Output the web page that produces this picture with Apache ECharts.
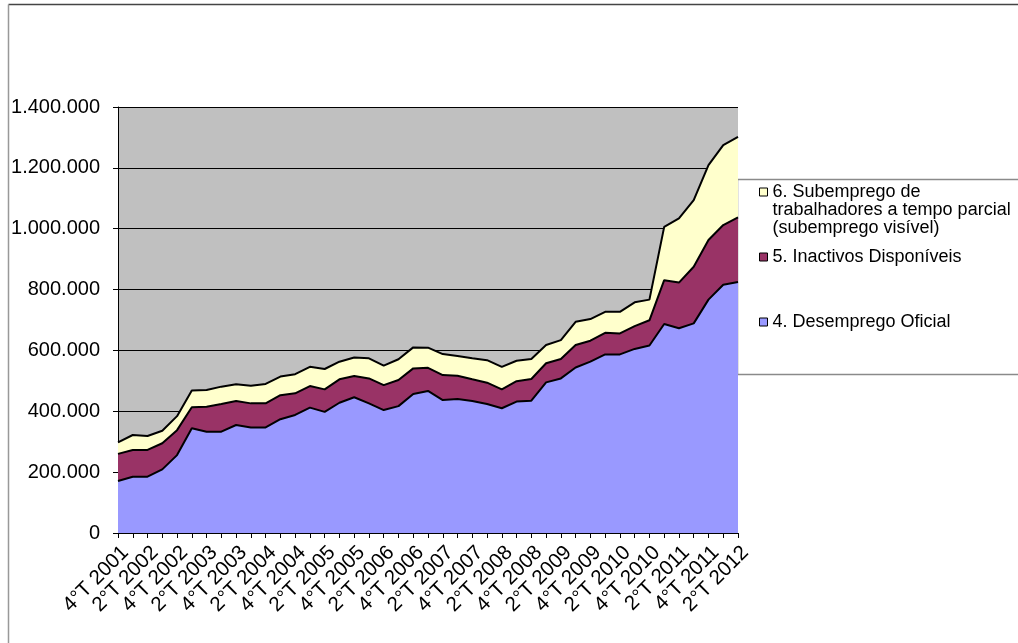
<!DOCTYPE html>
<html>
<head>
<meta charset="utf-8">
<script src="https://cdn.jsdelivr.net/npm/echarts@6/dist/echarts.min.js"></script>
<style>
  html, body { margin: 0; padding: 0; background: #fff; }
  #chart { width: 1018px; height: 643px; }
</style>
</head>
<body>
<div id="chart"></div>
<script>
/*########## dados: trimestres 4ºT 2001 - 2ºT 2012 ##########*/
var trimestres = [
  '4°T 2001',
  '1°T 2002', '2°T 2002', '3°T 2002', '4°T 2002',
  '1°T 2003', '2°T 2003', '3°T 2003', '4°T 2003',
  '1°T 2004', '2°T 2004', '3°T 2004', '4°T 2004',
  '1°T 2005', '2°T 2005', '3°T 2005', '4°T 2005',
  '1°T 2006', '2°T 2006', '3°T 2006', '4°T 2006',
  '1°T 2007', '2°T 2007', '3°T 2007', '4°T 2007',
  '1°T 2008', '2°T 2008', '3°T 2008', '4°T 2008',
  '1°T 2009', '2°T 2009', '3°T 2009', '4°T 2009',
  '1°T 2010', '2°T 2010', '3°T 2010', '4°T 2010',
  '1°T 2011', '2°T 2011', '3°T 2011', '4°T 2011',
  '1°T 2012', '2°T 2012'
];

// 4. Desemprego Oficial
var desempregoOficial = [
  171000, 185000, 185000, 209000, 256000, 344000, 333000, 333000, 355000, 347000,
  347000, 374000, 388000, 412000, 398000, 428000, 446000, 426000, 404000, 417000,
  457000, 467000, 437000, 440000, 434000, 424000, 410000, 432000, 435000, 495000,
  508000, 544000, 563000, 587000, 587000, 605000, 616000, 687000, 673000, 689000,
  767000, 816000, 825000
];

// 5. Inactivos Disponíveis
var inactivosDisponiveis = [
  89000, 88000, 88000, 86000, 82000, 69000, 82000, 91000, 79000, 79000,
  79000, 79000, 71000, 71000, 74000, 77000, 70000, 82000, 82000, 86000,
  84000, 76000, 82000, 77000, 71000, 70000, 62000, 67000, 71000, 63000,
  64000, 74000, 69000, 71000, 69000, 75000, 83000, 144000, 150000, 186000,
  196000, 196000, 212000
];

// 6. Subemprego de trabalhadores a tempo parcial
var subemprego = [
  38000, 49000, 46000, 41000, 46000, 55000, 55000, 57000, 55000, 58000,
  64000, 61000, 63000, 63000, 67000, 58000, 61000, 66000, 64000, 68000,
  69000, 66000, 69000, 65000, 69000, 74000, 74000, 67000, 66000, 60000,
  62000, 76000, 71000, 69000, 71000, 78000, 68000, 175000, 211000, 219000,
  246000, 263000, 265000
];

var nomes = [
  '4. Desemprego Oficial',
  '5. Inactivos Disponíveis',
  '6. Subemprego de\ntrabalhadores a tempo parcial\n(subemprego visível)'
];
var cores = ['#9999ff', '#993366', '#ffffcc'];

var fonte = '"Liberation Sans", Arial, sans-serif';

function milhares(v) {
    return String(v).replace(/\B(?=(\d{3})+(?!\d))/g, '.');
}

function serie(nome, dados, cor) {
    return {
        name: nome,
        type: 'line',
        stack: 'total',
        data: dados,
        showSymbol: false,
        symbol: 'none',
        silent: true,
        itemStyle: { color: cor },
        lineStyle: { color: '#000', width: 2 },
        areaStyle: { color: cor, opacity: 1 }
    };
}

var dom = document.getElementById('chart');
var myChart = echarts.init(dom);

var option = {
    animation: false,
    textStyle: { fontFamily: fonte },
    graphic: [
        {
            type: 'line', z: -10,
            shape: { x1: 8.5, y1: 4.5, x2: 1018, y2: 4.5 },
            style: { stroke: '#444', lineWidth: 1.5 }
        },
        {
            type: 'line', z: -10,
            shape: { x1: 8.5, y1: 4.5, x2: 8.5, y2: 643 },
            style: { stroke: '#999', lineWidth: 1.5 }
        },
        {
            type: 'rect', z: -5,
            shape: { x: 737.5, y: 179.5, width: 320, height: 195 },
            style: { fill: '#fff', stroke: '#8a8a8a', lineWidth: 1.5 }
        }
    ],
    legend: [
        {
            // duas linhas vazias em cima para o quadrado ficar na 1ª linha
            data: [nomes[2]],
            formatter: function (name) { return '\n\n' + name; },
            orient: 'vertical',
            left: 759,
            top: 147,
            padding: 0,
            icon: 'rect',
            itemWidth: 8,
            itemHeight: 8,
            itemStyle: { borderColor: '#000', borderWidth: 1 },
            textStyle: { fontSize: 18, lineHeight: 18, color: '#000', fontFamily: fonte }
        },
        {
            data: [nomes[1], nomes[0]],
            orient: 'vertical',
            left: 759,
            top: 248,
            padding: 0,
            itemGap: 47,
            icon: 'rect',
            itemWidth: 8,
            itemHeight: 8,
            itemStyle: { borderColor: '#000', borderWidth: 1 },
            textStyle: { fontSize: 18, lineHeight: 18, color: '#000', fontFamily: fonte }
        }
    ],
    grid: {
        left: 118,
        right: 280,
        top: 107,
        bottom: 110,
        show: true,
        backgroundColor: '#c0c0c0',
        borderWidth: 0
    },
    xAxis: {
        type: 'category',
        boundaryGap: false,
        data: trimestres,
        axisLine: { lineStyle: { color: '#000', width: 1 } },
        axisTick: { interval: 0, length: 5, lineStyle: { color: '#000' } },
        axisLabel: {
            interval: 1,
            rotate: 45,
            margin: 9,
            verticalAlign: 'top',
            fontSize: 20.5,
            color: '#000',
            fontFamily: fonte
        },
        splitLine: { show: false }
    },
    yAxis: {
        type: 'value',
        min: 0,
        max: 1400000,
        interval: 200000,
        axisLine: { show: true, lineStyle: { color: '#000', width: 1 } },
        axisTick: { show: true, length: 5, lineStyle: { color: '#000' } },
        axisLabel: {
            margin: 18,
            fontSize: 20,
            color: '#000',
            fontFamily: fonte,
            formatter: milhares
        },
        splitLine: { lineStyle: { color: '#000', width: 1 } }
    },
    series: [
        serie(nomes[0], desempregoOficial, cores[0]),
        serie(nomes[1], inactivosDisponiveis, cores[1]),
        serie(nomes[2], subemprego, cores[2])
    ]
};

if (option && typeof option === "object") {
    myChart.setOption(option, true);
}
</script>
</body>
</html>
